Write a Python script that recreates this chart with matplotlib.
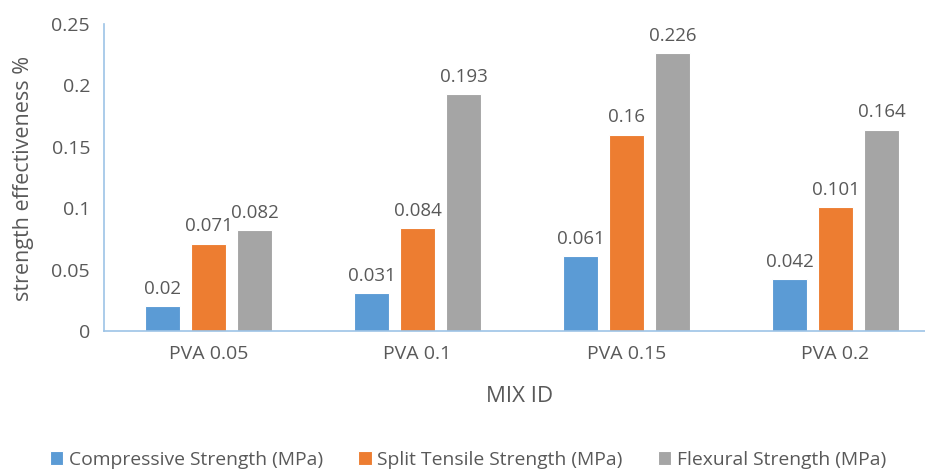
import matplotlib.pyplot as plt
import numpy as np

plt.rcParams['font.family'] = ['Open Sans', 'DejaVu Sans']

# data
mixes = ['PVA 0.05', 'PVA 0.1', 'PVA 0.15', 'PVA 0.2']
compressive = [0.02, 0.031, 0.061, 0.042]
split_tensile = [0.071, 0.084, 0.16, 0.101]
flexural = [0.082, 0.193, 0.226, 0.164]
series_names = ['Compressive Strength (MPa)', 'Split Tensile Strength (MPa)',
                'Flexural Strength (MPa)']
colors = ['#5B9BD5', '#ED7D31', '#A5A5A5']

txt = '#595959'
fig = plt.figure(figsize=(9.25, 4.72), dpi=100)
ax = fig.add_axes([104 / 925, 1 - 331 / 472, 836 / 925, 307 / 472])

x = np.arange(len(mixes))
w = 0.172
step = 0.22
for i, (vals, name, c) in enumerate(zip([compressive, split_tensile, flexural],
                                        series_names, colors)):
    bars = ax.bar(x + (i - 1) * step, vals, w, color=c, edgecolor='white',
                  linewidth=0.8, label=name)
    for b, v in zip(bars, vals):
        ax.annotate(f'{v:g}', (b.get_x() + b.get_width() / 2, v),
                    xytext=(0, 6), textcoords='offset points',
                    ha='center', va='bottom', fontsize=13.5, color=txt)

ax.set_xlim(-0.5, 3.5)
ax.set_ylim(0, 0.25)
ax.set_xticks(x)
ax.set_xticklabels(mixes)
ax.set_yticks([0, 0.05, 0.1, 0.15, 0.2, 0.25])
ax.set_yticklabels(['0', '0.05', '0.1', '0.15', '0.2', '0.25'])
ax.tick_params(length=0, labelsize=14, labelcolor=txt)
ax.tick_params(axis='x', pad=10)
ax.tick_params(axis='y', pad=10)

for s in ['top', 'right']:
    ax.spines[s].set_visible(False)
for s in ['left', 'bottom']:
    ax.spines[s].set_color('#9DC3E6')
    ax.spines[s].set_linewidth(1.2)

fig.text(24 / 925, 1 - 178 / 472, 'strength effectiveness %', rotation=90,
         ha='center', va='center', fontsize=15.5, color=txt)
fig.text(520 / 925, 1 - 397 / 472, 'MIX ID', ha='center', va='center',
         fontsize=16, color=txt)

# legend sits low, close to the bottom edge as in the original
fig.legend(loc='center', bbox_to_anchor=(468 / 925, 1 - 460 / 472), ncol=3,
           frameon=False, fontsize=13.9, labelcolor=txt, handlelength=0.7,
           handleheight=0.7, handletextpad=0.3, columnspacing=1.8)

fig.savefig('out.png', dpi=100)
